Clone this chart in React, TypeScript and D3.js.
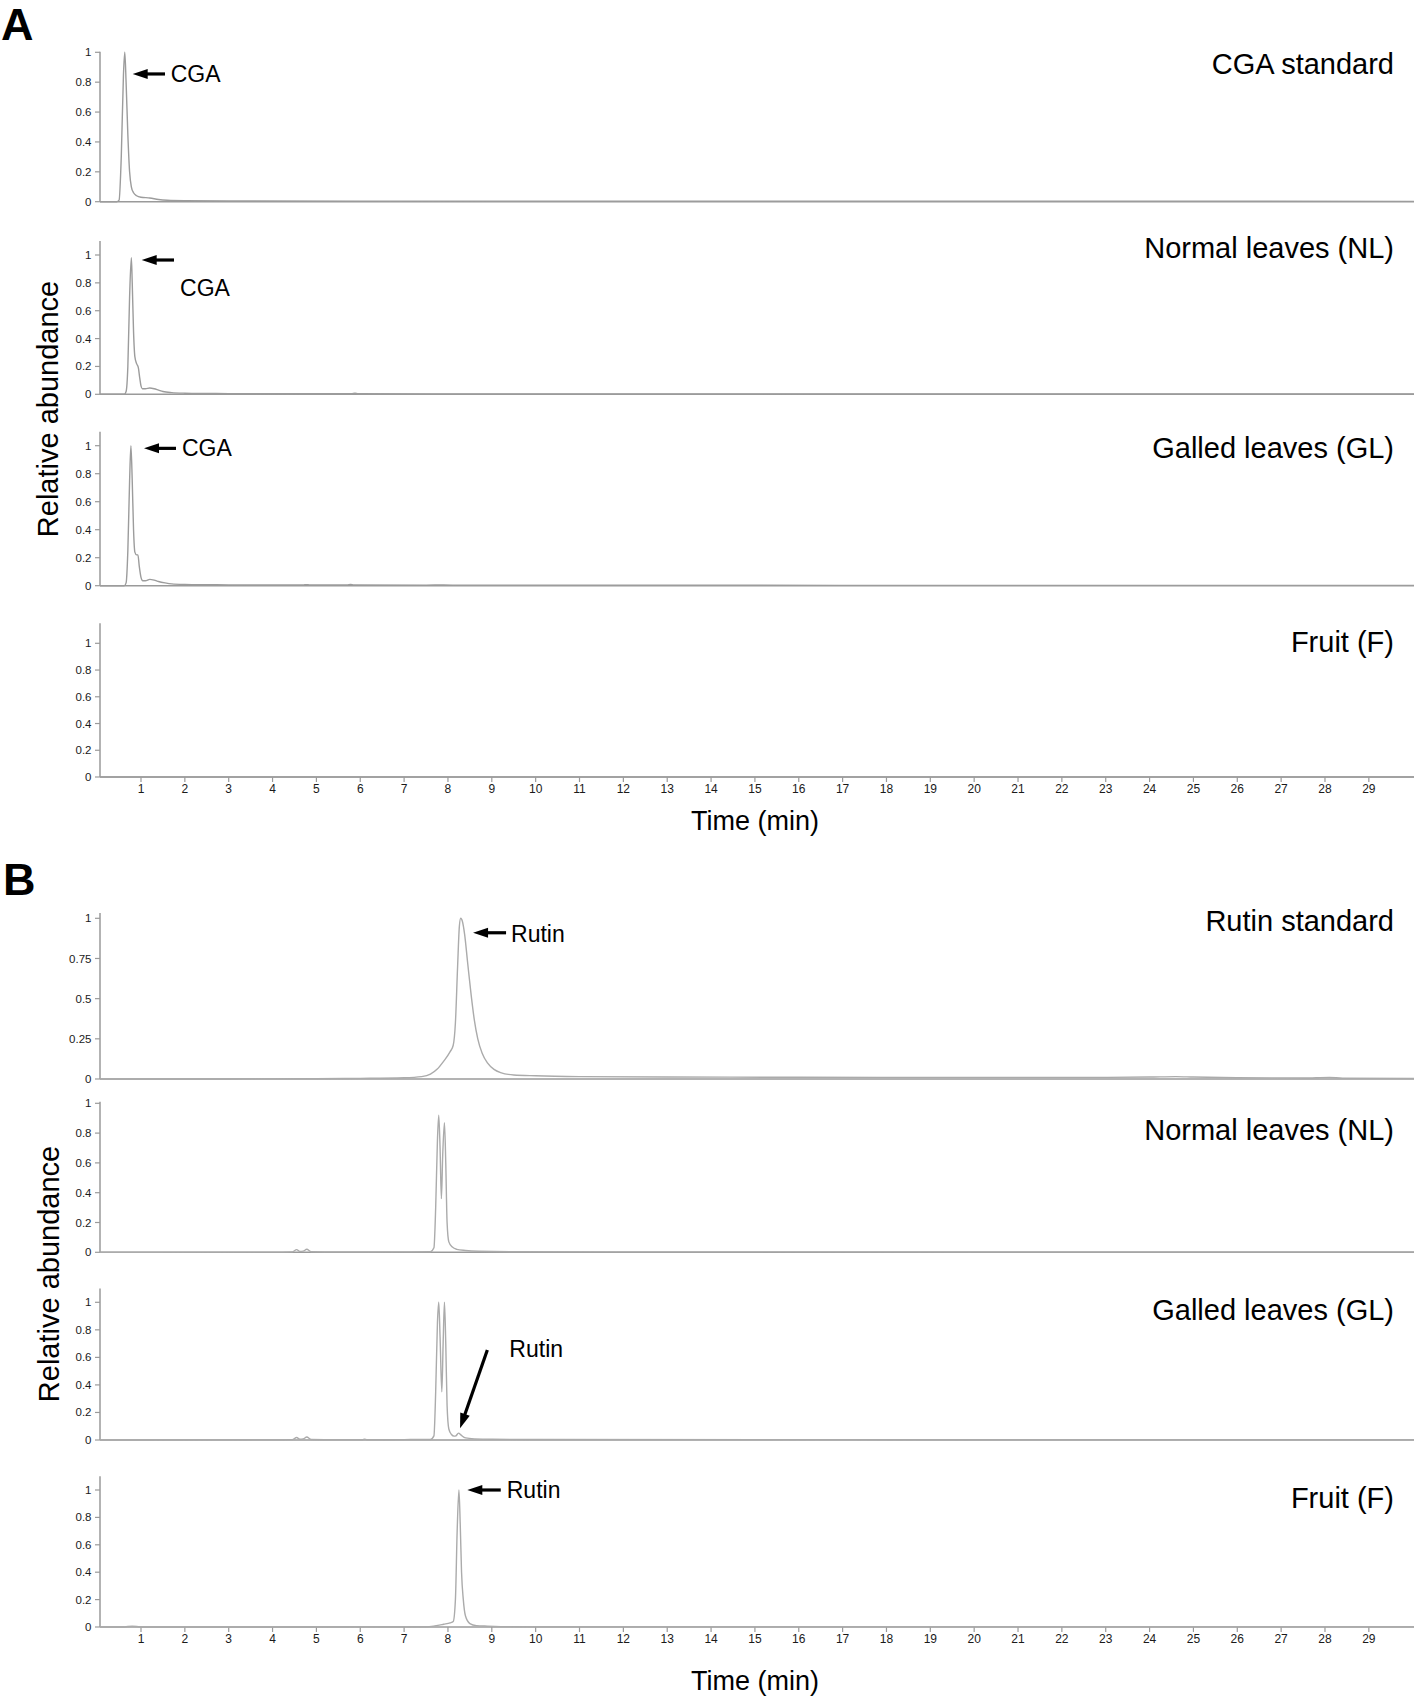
import React from "react";
import * as d3 from "d3";

// ---------- DATA ----------
const timeDomain: [number, number] = [0.065, 30.03];
const xTickValues: number[] = d3.range(1, 30);
const yTicksStd: number[] = [0, 0.2, 0.4, 0.6, 0.8, 1];
const yTicksRutin: number[] = [0, 0.25, 0.5, 0.75, 1];

const panelTitles: string[] = [
  "CGA standard",
  "Normal leaves (NL)",
  "Galled leaves (GL)",
  "Fruit (F)",
  "Rutin standard",
  "Normal leaves (NL)",
  "Galled leaves (GL)",
  "Fruit (F)",
];

// [time (min), relative abundance]
const cgaStandard: [number, number][] = [
  [0.065, 0], [0.45, 0], [0.5, 0.01], [0.55, 0.3], [0.6, 0.85], [0.63, 1.0], [0.66, 0.8],
  [0.7, 0.45], [0.74, 0.2], [0.78, 0.1], [0.83, 0.06], [0.9, 0.04], [1.0, 0.03], [1.2, 0.025],
  [1.4, 0.015], [1.6, 0.01], [2, 0.007], [3, 0.005], [6, 0.004], [12, 0.003], [18, 0.003],
  [24, 0.003], [30.03, 0.002],
];

const cgaNormalLeaves: [number, number][] = [
  [0.065, 0], [0.62, 0], [0.66, 0.02], [0.7, 0.2], [0.74, 0.7], [0.78, 0.98], [0.8, 0.8],
  [0.83, 0.45], [0.86, 0.27], [0.9, 0.22], [0.94, 0.19], [0.97, 0.12], [1.0, 0.06], [1.03, 0.04],
  [1.1, 0.04], [1.2, 0.045], [1.3, 0.04], [1.4, 0.03], [1.5, 0.02], [1.7, 0.012], [2, 0.008],
  [2.5, 0.006], [3, 0.005], [5, 0.004], [5.8, 0.004], [5.88, 0.008], [5.95, 0.004], [8, 0.003],
  [14, 0.003], [20, 0.002], [30.03, 0.002],
];

const cgaGalledLeaves: [number, number][] = [
  [0.065, 0], [0.62, 0], [0.66, 0.02], [0.7, 0.25], [0.74, 0.75], [0.77, 1.0], [0.8, 0.75],
  [0.83, 0.4], [0.86, 0.24], [0.9, 0.22], [0.93, 0.22], [0.96, 0.14], [1.0, 0.06], [1.04, 0.035],
  [1.1, 0.035], [1.2, 0.045], [1.3, 0.04], [1.4, 0.03], [1.55, 0.02], [1.7, 0.013], [2, 0.009],
  [2.5, 0.007], [3, 0.006], [4, 0.005], [4.7, 0.005], [4.77, 0.008], [4.85, 0.005], [5.7, 0.005],
  [5.78, 0.009], [5.85, 0.005], [7.5, 0.004], [7.9, 0.005], [8.3, 0.003], [14, 0.003],
  [20, 0.002], [30.03, 0.002],
];

const cgaFruit: [number, number][] = [
  [0.065, 0], [5, 0], [10, 0], [15, 0], [20, 0], [25, 0], [30.03, 0],
];

const rutinStandard: [number, number][] = [
  [0.065, 0], [3, 0], [5, 0.002], [6, 0.004], [7, 0.008], [7.4, 0.015], [7.6, 0.03],
  [7.75, 0.06], [7.9, 0.11], [8.05, 0.17], [8.12, 0.21], [8.17, 0.35], [8.22, 0.7], [8.26, 0.95],
  [8.29, 1.0], [8.33, 0.98], [8.38, 0.9], [8.45, 0.72], [8.53, 0.52], [8.6, 0.37], [8.68, 0.25],
  [8.78, 0.16], [8.9, 0.1], [9.05, 0.06], [9.2, 0.04], [9.5, 0.025], [10, 0.02], [11, 0.015],
  [13, 0.012], [16, 0.011], [20, 0.01], [23, 0.01], [24, 0.012], [24.6, 0.015], [25, 0.012],
  [26, 0.008], [27.5, 0.006], [28.1, 0.01], [28.4, 0.005], [30.03, 0.004],
];

const rutinNormalLeaves: [number, number][] = [
  [0.065, 0], [4, 0.001], [4.45, 0.003], [4.55, 0.018], [4.62, 0.006], [4.7, 0.008],
  [4.78, 0.02], [4.88, 0.004], [5.5, 0.002], [7.0, 0.003], [7.6, 0.004], [7.68, 0.03],
  [7.72, 0.3], [7.76, 0.75], [7.79, 0.92], [7.82, 0.7], [7.85, 0.36], [7.88, 0.65], [7.92, 0.87],
  [7.95, 0.6], [7.98, 0.2], [8.02, 0.07], [8.1, 0.035], [8.2, 0.02], [8.4, 0.012], [8.7, 0.007],
  [9.5, 0.004], [12, 0.003], [20, 0.002], [30.03, 0.002],
];

const rutinGalledLeaves: [number, number][] = [
  [0.065, 0], [4, 0.001], [4.45, 0.003], [4.55, 0.018], [4.62, 0.006], [4.7, 0.008],
  [4.78, 0.022], [4.88, 0.004], [5.5, 0.002], [6.05, 0.002], [6.1, 0.006], [6.15, 0.002],
  [7.0, 0.003], [7.6, 0.004], [7.68, 0.03], [7.72, 0.35], [7.76, 0.85], [7.79, 1.0], [7.82, 0.75],
  [7.86, 0.35], [7.89, 0.7], [7.92, 1.0], [7.95, 0.7], [7.98, 0.25], [8.02, 0.08], [8.08, 0.04],
  [8.14, 0.028], [8.18, 0.03], [8.24, 0.05], [8.3, 0.035], [8.4, 0.015], [8.6, 0.008],
  [9, 0.005], [10, 0.004], [20, 0.002], [30.03, 0.002],
];

const rutinFruit: [number, number][] = [
  [0.065, 0], [0.6, 0], [0.7, 0.004], [0.8, 0.006], [0.9, 0.004], [1.0, 0], [5, 0],
  [7.5, 0.001], [7.7, 0.008], [7.9, 0.02], [8.05, 0.03], [8.12, 0.04], [8.17, 0.2], [8.21, 0.7],
  [8.25, 1.0], [8.28, 0.75], [8.31, 0.4], [8.35, 0.2], [8.4, 0.08], [8.5, 0.025], [8.65, 0.01],
  [8.9, 0.006], [9.2, 0.003], [10, 0.001], [30.03, 0.001],
];

const traces: [number, number][][] = [
  cgaStandard, cgaNormalLeaves, cgaGalledLeaves, cgaFruit,
  rutinStandard, rutinNormalLeaves, rutinGalledLeaves, rutinFruit,
];

// annotations in data coordinates of their panel
const annotations = [
  { panel: 0, label: "CGA", tip: [0.811, 0.855], tail: [1.547, 0.855], text: [1.677, 0.801] },
  { panel: 1, label: "CGA", tip: [1.016, 0.964], tail: [1.753, 0.964], text: [1.89, 0.706] },
  { panel: 2, label: "CGA", tip: [1.069, 0.981], tail: [1.798, 0.981], text: [1.935, 0.926] },
  { panel: 4, label: "Rutin", tip: [8.572, 0.91], tail: [9.325, 0.91], text: [9.439, 0.854] },
  { panel: 6, label: "Rutin", tip: [8.276, 0.085], tail: [8.898, 0.654], text: [9.4, 0.605] },
  { panel: 7, label: "Rutin", tip: [8.442, 1.0], tail: [9.204, 1.0], text: [9.341, 0.939] },
];

// ---------- LAYOUT ----------
const W = 1418;
const H = 1699;
const X0 = 100;
const X1 = 1414;

const layout = [
  { y0: 201.7, y1: 52.3, top: 1.004, title: 74, ticks: yTicksStd, xAxis: false, color: "#9c9c9c" },
  { y0: 394.3, y1: 255, top: 1.1, title: 258.3, ticks: yTicksStd, xAxis: false, color: "#9c9c9c" },
  { y0: 585.7, y1: 445.7, top: 1.1, title: 458, ticks: yTicksStd, xAxis: false, color: "#9c9c9c" },
  { y0: 777, y1: 643.3, top: 1.15, title: 652, ticks: yTicksStd, xAxis: true, color: "#9c9c9c" },
  { y0: 1079, y1: 918.3, top: 1.033, title: 931, ticks: yTicksRutin, xAxis: false, color: "#ababab" },
  { y0: 1252.3, y1: 1103.3, top: 1.01, title: 1140, ticks: yTicksStd, xAxis: false, color: "#ababab" },
  { y0: 1440, y1: 1302.3, top: 1.1, title: 1320, ticks: yTicksStd, xAxis: false, color: "#ababab" },
  { y0: 1627, y1: 1490, top: 1.1, title: 1508, ticks: yTicksStd, xAxis: true, color: "#ababab" },
];

const FONT = "'Liberation Sans', Arial, Helvetica, sans-serif";
const AXIS = "#9a9a9a";

function Arrow({ x0, y0, x1, y1 }: { x0: number; y0: number; x1: number; y1: number }) {
  const dx = x1 - x0;
  const dy = y1 - y0;
  const len = Math.sqrt(dx * dx + dy * dy);
  const ux = dx / len;
  const uy = dy / len;
  const L = 15;
  const Wd = 5;
  const bx = x1 - ux * L;
  const by = y1 - uy * L;
  const nx = -uy;
  const ny = ux;
  const pts = [
    [x1, y1],
    [bx + nx * Wd, by + ny * Wd],
    [bx - nx * Wd, by - ny * Wd],
  ]
    .map((p) => p.join(","))
    .join(" ");
  return (
    <g>
      <line x1={x0} y1={y0} x2={bx + ux * 2} y2={by + uy * 2} stroke="#000" strokeWidth={3.2} />
      <polygon points={pts} fill="#000" />
    </g>
  );
}

export default function App() {
  const x = d3.scaleLinear().domain(timeDomain).range([X0, X1]);

  return (
    <svg
      width={W}
      height={H}
      viewBox={`0 0 ${W} ${H}`}
      style={{ position: "absolute", left: 0, top: 0, display: "block", background: "#fff" }}
      fontFamily={FONT}
    >
      <rect x={0} y={0} width={W} height={H} fill="#fff" />
      {/* panel letters */}
      <text x={1} y={40} fontSize={45} fontWeight="bold" fill="#000">A</text>
      <text x={3} y={895} fontSize={45} fontWeight="bold" fill="#000">B</text>

      {/* y axis titles */}
      <text transform="translate(58,409) rotate(-90)" textAnchor="middle" fontSize={29} fill="#000">
        Relative abundance
      </text>
      <text transform="translate(59,1274) rotate(-90)" textAnchor="middle" fontSize={29} fill="#000">
        Relative abundance
      </text>

      {/* x axis titles */}
      <text x={755} y={830} textAnchor="middle" fontSize={27} fill="#000">Time (min)</text>
      <text x={755} y={1690} textAnchor="middle" fontSize={27} fill="#000">Time (min)</text>

      {layout.map((p, i) => {
        const y = d3.scaleLinear().domain([0, 1]).range([p.y0, p.y1]);
        const line = d3
          .line<[number, number]>()
          .x((d) => x(d[0]))
          .y((d) => y(d[1]))
          .curve(d3.curveMonotoneX);
        const fmt = (v: number) => (v === 0 ? "0" : String(v));
        return (
          <g key={i}>
            {/* y axis */}
            <line x1={X0} x2={X0} y1={y(0)} y2={y(p.top)} stroke={AXIS} strokeWidth={1.5} />
            {p.ticks.map((t) => (
              <g key={t}>
                <line x1={X0 - 5} x2={X0} y1={y(t)} y2={y(t)} stroke={AXIS} strokeWidth={1.2} />
                <text
                  x={X0 - 8.5}
                  y={y(t)}
                  dy="0.35em"
                  textAnchor="end"
                  fontSize={11.5}
                  fill="#1a1a1a"
                >
                  {fmt(t)}
                </text>
              </g>
            ))}
            {/* x axis baseline */}
            <line x1={X0} x2={X1} y1={y(0)} y2={y(0)} stroke={AXIS} strokeWidth={1.5} />
            {p.xAxis &&
              xTickValues.map((t) => (
                <g key={t}>
                  <line x1={x(t)} x2={x(t)} y1={y(0)} y2={y(0) + 5} stroke={AXIS} strokeWidth={1.2} />
                  <text x={x(t)} y={y(0) + 12} dy="0.35em" textAnchor="middle" fontSize={12} fill="#1a1a1a">
                    {t}
                  </text>
                </g>
              ))}
            {/* trace */}
            <path d={line(traces[i]) || ""} fill="none" stroke={p.color} strokeWidth={1.4} />
            {/* title */}
            <text x={1394} y={p.title} textAnchor="end" fontSize={29} fill="#000">
              {panelTitles[i]}
            </text>
          </g>
        );
      })}

      {annotations.map((a, k) => {
        const p = layout[a.panel];
        const y = d3.scaleLinear().domain([0, 1]).range([p.y0, p.y1]);
        return (
          <g key={k}>
            <Arrow x0={x(a.tail[0])} y0={y(a.tail[1])} x1={x(a.tip[0])} y1={y(a.tip[1])} />
            <text x={x(a.text[0])} y={y(a.text[1])} fontSize={23} fill="#000">
              {a.label}
            </text>
          </g>
        );
      })}
    </svg>
  );
}
